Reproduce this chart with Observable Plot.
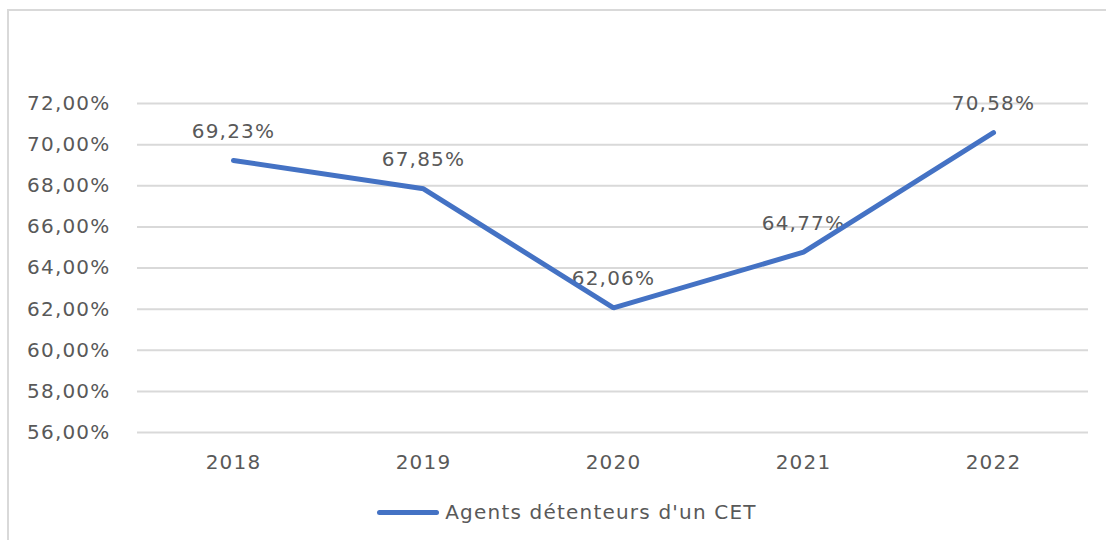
<!DOCTYPE html>
<html>
<head>
<meta charset="utf-8">
<script src="https://cdn.jsdelivr.net/npm/d3@7"></script>
<script src="https://cdn.jsdelivr.net/npm/@observablehq/plot@0.6"></script>
<style>
  html, body { margin: 0; padding: 0; background: #fff; }
  #page { position: relative; width: 1106px; height: 540px; overflow: hidden; font-family: "DejaVu Sans", sans-serif; }
  #frame { position: absolute; left: 7px; top: 9px; width: 1110px; height: 540px; border-left: 2px solid #d9d9d9; border-top: 2px solid #d9d9d9; pointer-events: none; }
  #chart { position: absolute; left: 0; top: 0; }
  #legend { position: absolute; left: 0; top: 500px; width: 1106px; box-sizing: border-box; padding-left: 28px; display: flex; justify-content: center; align-items: center; color: #595959; font-size: 20px; letter-spacing: 1.2px; }
  #legend .sw { display: inline-block; width: 62px; height: 5px; border-radius: 3px; background: #4472C4; margin-right: 6px; margin-left: 0px; }
</style>
</head>
<body>
<div id="page">
  <div id="chart"></div>
  <div id="frame"></div>
  <div id="legend"></div>
</div>
<script>
const years = ["2018", "2019", "2020", "2021", "2022"];
const values = [69.23, 67.85, 62.06, 64.77, 70.58];
const yTicks = [56, 58, 60, 62, 64, 66, 68, 70, 72];
const seriesName = "Agents détenteurs d'un CET";

const data = years.map((y, i) => ({ year: y, value: values[i] }));
const fmt = v => v.toFixed(2).replace(".", ",") + "%";

const chart = Plot.plot({
  width: 1106,
  height: 490,
  marginLeft: 137,
  marginRight: 18,
  marginTop: 103,
  marginBottom: 58,
  style: { fontFamily: "DejaVu Sans, sans-serif", fontSize: "20px", color: "#595959", letterSpacing: "1.2px", background: "transparent" },
  x: { type: "point", domain: years, padding: 0.5, label: null },
  y: { domain: [56, 72], label: null },
  marks: [
    Plot.ruleY(yTicks, { stroke: "#d9d9d9", strokeWidth: 2, strokeOpacity: 1 }),
    Plot.axisY({ ticks: yTicks, tickSize: 0, tickPadding: 27, tickFormat: fmt, label: null, fill: "#595959" }),
    Plot.axisX({ tickSize: 0, tickPadding: 22, label: null, fill: "#595959" }),
    Plot.text(data, { x: "year", y: "value", text: d => fmt(d.value), dy: -29, fill: "#595959" }),
    Plot.line(data, { x: "year", y: "value", stroke: "#4472C4", strokeWidth: 5, strokeLinejoin: "miter", strokeLinecap: "round" })
  ]
});
document.getElementById("chart").appendChild(chart);

const legend = document.getElementById("legend");
legend.innerHTML = `<span class="sw"></span><span></span>`;
legend.lastChild.textContent = seriesName;
</script>
</body>
</html>
